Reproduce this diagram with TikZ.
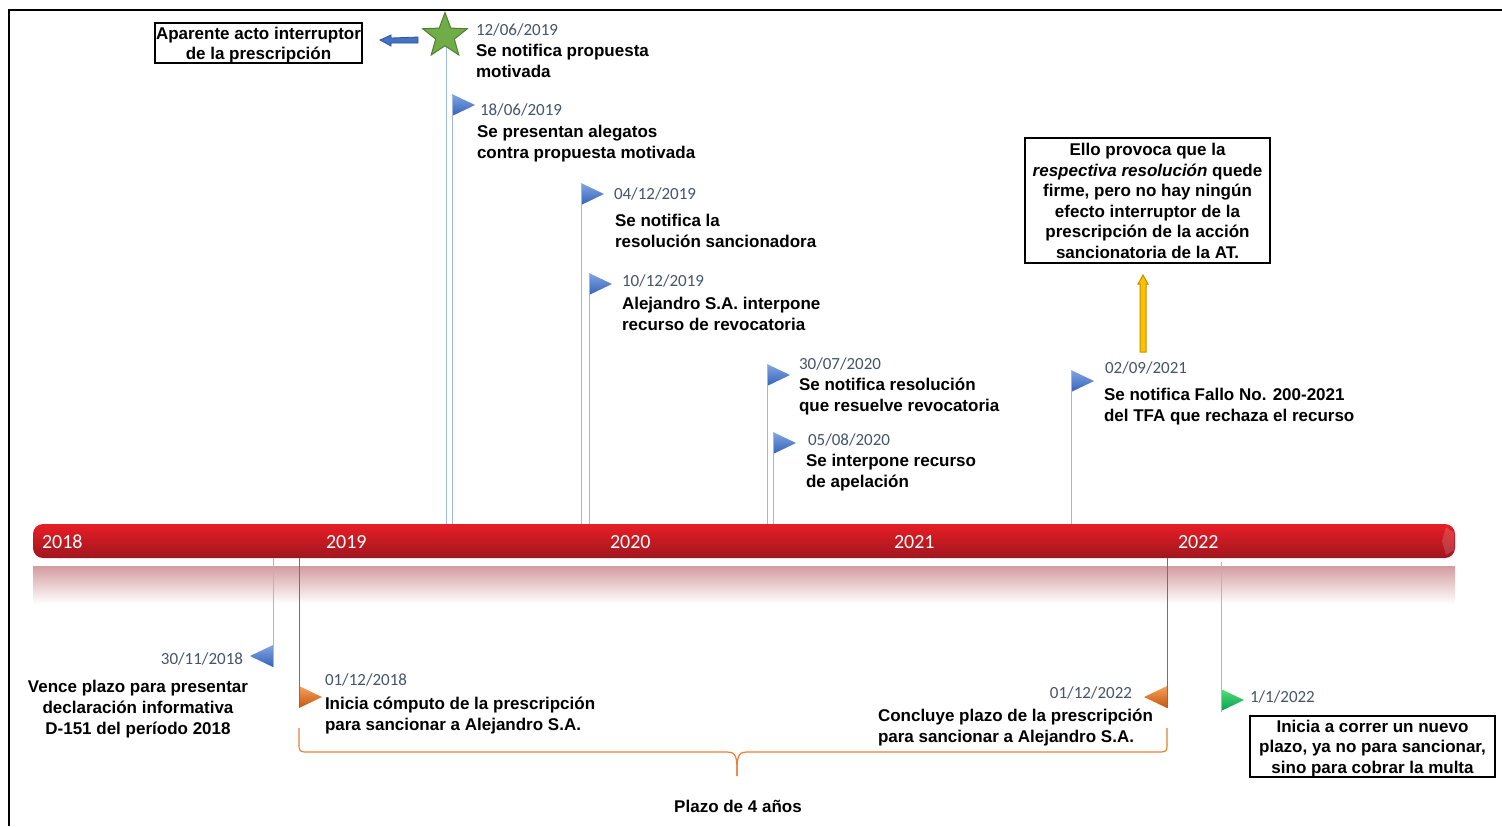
\documentclass[tikz,border=0pt]{standalone}
\usepackage{fontspec}
\setmainfont{Liberation Sans}
\newfontfamily\datefont{Carlito}
\usetikzlibrary{shapes.geometric,arrows.meta,calc}
\definecolor{datec}{RGB}{68,84,106}
\definecolor{stemb}{RGB}{160,184,222}
\definecolor{stemo}{RGB}{197,90,17}
\definecolor{bracec}{RGB}{237,125,49}
\definecolor{barA}{RGB}{232,30,38}
\definecolor{barB}{RGB}{160,22,30}
\definecolor{reflA}{RGB}{212,156,160}
\definecolor{flbA}{RGB}{130,166,226}
\definecolor{flbB}{RGB}{52,98,186}
\definecolor{floA}{RGB}{246,160,90}
\definecolor{floB}{RGB}{196,86,16}
\definecolor{flgA}{RGB}{90,220,120}
\definecolor{flgB}{RGB}{0,160,80}
\definecolor{starg}{RGB}{112,173,71}
\definecolor{stard}{RGB}{80,126,50}
\definecolor{arrb}{RGB}{68,114,196}
\definecolor{arrbd}{RGB}{47,85,151}
\definecolor{gold}{RGB}{255,192,0}
\definecolor{goldd}{RGB}{191,144,0}
% flag: name, x, ytop, dir (1 right / -1 left), top colour, bottom colour
\newcommand\myflag[6]{%
  \coordinate (#1) at (#2,#3);
  \shade[top color=#5, bottom color=#6] (#2,#3) -- ++(#4*23,11) -- (#2,#3+22) -- cycle;
}
\begin{document}
\begin{tikzpicture}[x=0.5pt,y=-0.5pt,
  every node/.style={inner sep=0pt,outer sep=0pt},
  evt/.style={font=\bfseries\fontsize{8.5}{10.4}\selectfont,align=left,anchor=base west},
  dt/.style={font=\datefont\fontsize{8.5}{10}\selectfont,text=datec,anchor=base west},
  yr/.style={font=\datefont\fontsize{10}{12}\selectfont,text=white,anchor=base west},
  box/.style={draw,line width=0.6pt},
  boxtext/.style={align=center,font=\bfseries\fontsize{8.5}{10.3}\selectfont},
  stemblue/.style={draw=stemb,line width=0.5pt},
  stemorange/.style={draw=stemo,line width=0.5pt}]
\useasboundingbox (0,0) rectangle (1502,826);
% frame
\draw[line width=1.2pt] (9,826) -- (9,10) -- (1502,10);

% timeline bar and reflection
\shade[top color=reflA, bottom color=white] (33,566) rectangle (1455,604);
\shade[top color=barA, middle color=barA, bottom color=barB, rounded corners=5pt] (33,524) rectangle (1455,558);
\fill[white, opacity=0.15] (1446,527) -- (1454,533) -- (1454,550) -- (1446,555) -- (1442,541) -- cycle;
\coordinate (bartop) at (0,524);
\coordinate (barbot) at (0,558);
\node[yr] (y18) at (42,548) {2018};
\node[yr] (y19) at (326,548) {2019};
\node[yr] (y20) at (610,548) {2020};
\node[yr] (y21) at (894,548) {2021};
\node[yr] (y22) at (1178,548) {2022};

% ---------- upper events ----------
\coordinate (s1) at (446,36);
\draw[stemblue] (s1) -- (s1 |- bartop);
\node[star,star points=5,star point ratio=2.4,minimum size=23.5pt,fill=starg,draw=stard,line width=0.5pt] (star) at (445,36) {};
\node[dt] (d1) at (476,35) {12/06/2019};
\node[evt] (t1) at (476,77) {Se notifica propuesta\\motivada};

\myflag{f2}{452}{94}{1}{flbA}{flbB}
\draw[stemblue] (f2) -- (f2 |- bartop);
\node[dt] (d2) at (480,115) {18/06/2019};
\node[evt] (t2) at (477,158) {Se presentan alegatos\\contra propuesta motivada};

\myflag{f3}{581}{183}{1}{flbA}{flbB}
\draw[stemblue] (f3) -- (f3 |- bartop);
\node[dt] (d3) at (614,199) {04/12/2019};
\node[evt] (t3) at (615,247) {Se notifica la\\resolución sancionadora};

\myflag{f4}{589}{273}{1}{flbA}{flbB}
\draw[stemblue] (f4) -- (f4 |- bartop);
\node[dt] (d4) at (622,286) {10/12/2019};
\node[evt] (t4) at (622,330) {Alejandro S.A. interpone\\recurso de revocatoria};

\myflag{f5}{767}{364}{1}{flbA}{flbB}
\draw[stemblue] (f5) -- (f5 |- bartop);
\node[dt] (d5) at (799,369) {30/07/2020};
\node[evt] (t5) at (799,411) {Se notifica resolución\\que resuelve revocatoria};

\myflag{f6}{773}{432}{1}{flbA}{flbB}
\draw[stemblue] (f6) -- (f6 |- bartop);
\node[dt] (d6) at (808,445) {05/08/2020};
\node[evt] (t6) at (806,487) {Se interpone recurso\\de apelación};

\myflag{f7}{1071}{370}{1}{flbA}{flbB}
\draw[stemblue] (f7) -- (f7 |- bartop);
\node[dt] (d7) at (1105,373) {02/09/2021};
\node[evt] (t7) at (1104,421) {Se notifica Fallo No. 200-2021\\del TFA que rechaza el recurso};

% boxes top
\node[box,minimum width=103.5pt,minimum height=20pt] (apar) at (258.5,43) {};
\node[boxtext] (apart) at ($(apar)+(0,2)$) {Aparente acto interruptor\\de la prescripción};
\coordinate (ba1) at (418,40);
\coordinate (ba2) at (380,40);
\filldraw[fill=arrb,draw=arrbd,line width=0.4pt] (ba2) -- ++(11,-5) -- ++(0,3) -- (ba1 |- 0,37) -- (ba1 |- 0,43) -- ($(ba2)+(11,3)$) -- ++(0,3) -- cycle;

\node[box,minimum width=122.5pt,minimum height=62.5pt] (ello) at (1147.5,200.5) {};
\node[boxtext] (ellot) at ($(ello)+(0,0.5)$) {Ello provoca que la\\\textit{respectiva resolución} quede\\firme, pero no hay ningún\\efecto interruptor de la\\prescripción de la acción\\sancionatoria de la AT.};
\coordinate (g1) at (1143,352);
\coordinate (g2) at (1143,275);
\filldraw[fill=gold,draw=goldd,line width=0.5pt] (g2) -- ++(5,9) -- ++(-2,0) -- ($(g1)+(3,0)$) -- ($(g1)+(-3,0)$) -- ($(g2)+(-3,9)$) -- ++(-2,0) -- cycle;

% ---------- lower events ----------
\myflag{f8}{273}{645}{-1}{flbA}{flbB}
\draw[stemblue] (f8 |- barbot) -- ($(f8)+(0,22)$);
\node[dt,anchor=base east] (d8) at (243,664) {30/11/2018};
\node[evt,align=center,anchor=base] (t8) at (138,734) {Vence plazo para presentar\\declaración informativa\\D-151 del período 2018};

\myflag{f9}{299}{686}{1}{floA}{floB}
\draw[stemorange] (f9 |- barbot) -- ($(f9)+(0,22)$);
\node[dt] (d9) at (325,685) {01/12/2018};
\node[evt] (t9) at (325,730) {Inicia cómputo de la prescripción\\para sancionar a Alejandro S.A.};

\myflag{f10}{1167}{686}{-1}{floA}{floB}
\draw[stemorange] (f10 |- barbot) -- ($(f10)+(0,22)$);
\node[dt,anchor=base east] (d10) at (1132,698) {01/12/2022};
\node[evt] (t10) at (878,742) {Concluye plazo de la prescripción\\para sancionar a Alejandro S.A.};

\myflag{f11}{1221}{689}{1}{flgA}{flgB}
\draw[stemblue] (f11 |- 0,562) -- ($(f11)+(0,23)$);
\node[dt] (d11) at (1250,702) {1/1/2022};
\node[box,minimum width=122.5pt,minimum height=30.5pt] (nuevo) at (1372.5,746.5) {};
\node[boxtext] (nuevot) at ($(nuevo)+(0,2)$) {Inicia a correr un nuevo\\plazo, ya no para sancionar,\\sino para cobrar la multa};

% brace
\coordinate (bl) at (299,728);
\coordinate (br) at (1167,728);
\coordinate (bm) at (737,776);
\draw[bracec,line width=0.6pt] (bl) -- ++(0,14) .. controls ($(bl)+(0,24)$) .. ($(bl)+(10,24)$) -- ($(bm)+(-10,-24)$) .. controls ($(bm)+(0,-24)$) and ($(bm)+(0,-18)$) .. (bm);
\draw[bracec,line width=0.6pt] (br) -- ++(0,14) .. controls ($(br)+(0,24)$) .. ($(br)+(-10,24)$) -- ($(bm)+(10,-24)$) .. controls ($(bm)+(0,-24)$) and ($(bm)+(0,-18)$) .. (bm);
\node[font=\bfseries\fontsize{8.5}{10}\selectfont] (plazo) at (738,806) {Plazo de 4 años};
\end{tikzpicture}
\end{document}
